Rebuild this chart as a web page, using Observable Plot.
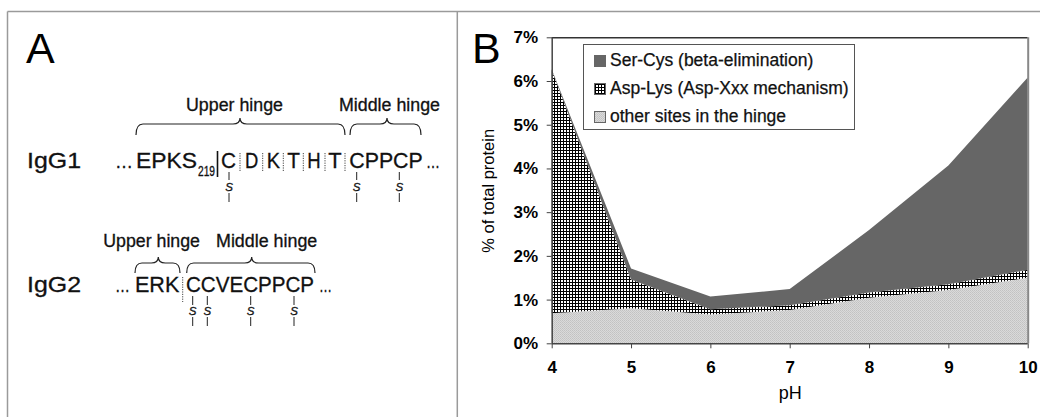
<!DOCTYPE html>
<html>
<head>
<meta charset="utf-8">
<script src="https://cdn.jsdelivr.net/npm/d3@7"></script>
<script src="https://cdn.jsdelivr.net/npm/@observablehq/plot@0.6"></script>
<style>
  html, body { margin: 0; padding: 0; background: #fff; }
  body { width: 1040px; height: 417px; position: relative; overflow: hidden; font-family: "Liberation Sans", Arial, sans-serif; }
  #chart { position: absolute; left: 470px; top: 0; }
  #overlay { position: absolute; left: 0; top: 0; pointer-events: none; }
  #legend { position: absolute; left: 583px; top: 44px; width: 272px; height: 86px; border: 1px solid #555; background: #fff; box-sizing: border-box; font-size: 17.5px; color: #111; -webkit-text-stroke: 0.25px #111; }
  .lg { position: absolute; left: 10px; height: 20px; line-height: 20px; white-space: nowrap; }
  .sw { display: inline-block; width: 10px; height: 10px; border: 1px solid #666; vertical-align: -1px; margin-right: 4px; }
</style>
</head>
<body>
<svg width="0" height="0" style="position:absolute">
  <defs>
    <pattern id="checker" width="3" height="3" patternUnits="userSpaceOnUse">
      <rect width="3" height="3" fill="#000"/>
      <rect x="1" y="1" width="2" height="2" fill="#fff"/>
    </pattern>
    <pattern id="stipple" width="2" height="2" patternUnits="userSpaceOnUse">
      <rect width="2" height="2" fill="#dadada"/>
      <rect width="1" height="1" fill="#c2c2c2"/>
      <rect x="1" y="1" width="1" height="1" fill="#c8c8c8"/>
    </pattern>
  </defs>
</svg>
<div id="chart"></div>
<div id="legend"></div>
<svg id="overlay" width="1040" height="417" font-family="Liberation Sans, Arial, sans-serif">
  <g stroke="#9a9a9a" stroke-width="1.5" fill="none">
    <line x1="7.5" y1="11.5" x2="1040" y2="11.5"/>
    <line x1="7.5" y1="11.5" x2="7.5" y2="417"/>
    <line x1="457.3" y1="11.5" x2="457.3" y2="417"/>
  </g>
  <text x="26" y="63" font-size="43" fill="#000">A</text>
  <text x="472" y="63" font-size="43" fill="#000">B</text>
  <g id="panelA" fill="#111" stroke="#111" stroke-width="0.3"></g>
</svg>
<script>
// ---- Panel B data ----
const pH = [4, 5, 6, 7, 8, 9, 10];
const otherSites = [0.69, 0.80, 0.66, 0.76, 1.04, 1.22, 1.50];
const aspLys     = [5.56, 0.66, 0.12, 0.11, 0.12, 0.13, 0.18];
const serCys     = [0.02, 0.25, 0.29, 0.37, 1.43, 2.72, 4.40];
const seriesNames = ["other sites in the hinge", "Asp-Lys (Asp-Xxx mechanism)", "Ser-Cys (beta-elimination)"];
const seriesFills = ["url(#stipple)", "url(#checker)", "#666666"];
const yTicks = [0, 1, 2, 3, 4, 5, 6, 7];

const seriesValues = [otherSites, aspLys, serCys];
const rows = [];
seriesNames.forEach((s, i) => pH.forEach((p, j) => rows.push({pH: p, value: seriesValues[i][j], series: s})));

const chart = Plot.plot({
  width: 570,
  height: 417,
  marginLeft: 81.7,
  marginRight: 12.3,
  marginTop: 37.3,
  marginBottom: 73.7,
  style: {fontFamily: "Liberation Sans, Arial, sans-serif", background: "transparent", color: "#000"},
  x: {domain: [4, 10]},
  y: {domain: [0, 7]},
  color: {type: "ordinal", domain: seriesNames, range: seriesFills},
  marks: [
    Plot.areaY(rows, {x: "pH", y: "value", fill: "series", order: seriesNames}),
    Plot.ruleY([7], {stroke: "#333", strokeWidth: 1.5}),
    Plot.ruleX([10], {stroke: "#888", strokeWidth: 2}),
    Plot.ruleX([4], {stroke: "#444", strokeWidth: 1.5}),
    Plot.ruleY([0], {stroke: "#444", strokeWidth: 1.5}),
    Plot.axisY({ticks: yTicks, tickFormat: d => d + "%", tickSize: 5, tickPadding: 9, fontSize: 17, fontWeight: "bold", label: null, stroke: "#444"}),
    Plot.axisY({ticks: [], tickSize: 0, label: "% of total protein", labelAnchor: "center", labelArrow: "none", labelOffset: 70, fontSize: 16.5}),
    Plot.axisX({ticks: pH, tickFormat: d => String(d), tickSize: 5, tickPadding: 12, fontSize: 17, fontWeight: "bold", label: null, stroke: "#444"}),
    Plot.axisX({ticks: [], tickSize: 0, label: "pH", labelAnchor: "center", labelArrow: "none", labelOffset: 55, fontSize: 18})
  ]
});
document.getElementById("chart").appendChild(chart);

// ---- Legend ----
const legend = document.getElementById("legend");
const legendOrder = [2, 1, 0];
legendOrder.forEach((i, k) => {
  const d = document.createElement("div");
  d.className = "lg";
  d.style.top = (5 + k * 28) + "px";
  const sw = document.createElement("span");
  sw.className = "sw";
  if (seriesFills[i].startsWith("url")) {
    sw.innerHTML = '<svg width="10" height="10" style="display:block"><rect width="10" height="10" fill="' + seriesFills[i] + '"/></svg>';
  } else {
    sw.style.background = seriesFills[i];
  }
  d.appendChild(sw);
  d.appendChild(document.createTextNode(seriesNames[i]));
  legend.appendChild(d);
});

// ---- Panel A diagram ----
const NS = "http://www.w3.org/2000/svg";
const gA = document.getElementById("panelA");
function el(tag, attrs, text) {
  const e = document.createElementNS(NS, tag);
  for (const k in attrs) e.setAttribute(k, attrs[k]);
  if (text != null) e.textContent = text;
  gA.appendChild(e);
  return e;
}
function txt(s, x, y, size, len, extra) {
  const a = Object.assign({x, y, "font-size": size}, extra || {});
  if (len) { a.textLength = len; a.lengthAdjust = "spacingAndGlyphs"; }
  return el("text", a, s);
}
function brace(x1, x2, xm, yt, yb, yp) {
  const r = 7;
  const d = `M${x1},${yb} Q${x1},${yt} ${x1 + r},${yt} L${xm - r},${yt} Q${xm},${yt} ${xm},${yp} Q${xm},${yt} ${xm + r},${yt} L${x2 - r},${yt} Q${x2},${yt} ${x2},${yb}`;
  el("path", {d, fill: "none", stroke: "#222", "stroke-width": 1.2});
}
function dotted(x, y1, y2) {
  el("line", {x1: x, x2: x, y1, y2, stroke: "#444", "stroke-width": 1, "stroke-dasharray": "1.2,1.2"});
}
function bond(x, y1, y2, ys, y3, y4) {
  el("line", {x1: x, x2: x, y1, y2, stroke: "#222", "stroke-width": 1});
  txt("S", x, ys, 11.5, null, {"text-anchor": "middle", "font-style": "italic"});
  el("line", {x1: x, x2: x, y1: y3, y2: y4, stroke: "#222", "stroke-width": 1});
}

// IgG1
txt("IgG1", 27, 168, 22, 54);
txt("Upper hinge", 186, 111, 17.5, 97);
txt("Middle hinge", 339, 111, 17.5, 101);
brace(136, 345, 240, 124, 135, 118);
brace(350, 421, 387, 124, 135, 118);
txt("\u2026", 115, 168, 19, 18);
txt("EPKS", 136, 168, 21.5, 61);
txt("219", 198, 176, 14, 17);
el("line", {x1: 217.5, x2: 217.5, y1: 151, y2: 177, stroke: "#111", "stroke-width": 1.6});
const ig1Letters = [["C", 221, 15], ["D", 245, 13.3], ["K", 266.7, 13.3], ["T", 287.3, 12.7], ["H", 307.3, 13.4], ["T", 328.3, 13.4]];
ig1Letters.forEach(([s, x, w]) => txt(s, x, 168, 21.5, w));
[240, 262.7, 283.3, 303.3, 325, 345].forEach(x => dotted(x, 153, 172));
txt("CPPCP", 349.3, 168, 21.5, 73.4);
txt("\u2026", 426, 168, 19, 14);
[229, 356.7, 399.3].forEach(x => bond(x, 172, 180, 190.5, 193, 202));

// IgG2
txt("IgG2", 27, 292, 22, 54);
txt("Upper hinge", 103.3, 247, 17.5, 96.7);
txt("Middle hinge", 216, 247, 17.5, 101.3);
brace(135, 180, 158.3, 263, 273, 257);
brace(186.7, 315, 251.7, 263, 273, 257);
txt("\u2026", 115, 292, 19, 15);
txt("ERK", 135, 292, 21.5, 44.3);
dotted(182.7, 277, 302);
txt("CCVECPPCP", 186, 292, 21.5, 128);
txt("\u2026", 319, 292, 19, 13);
[192.7, 207.3, 250.7, 294].forEach(x => bond(x, 296, 305, 315, 317, 326));
</script>
</body>
</html>
